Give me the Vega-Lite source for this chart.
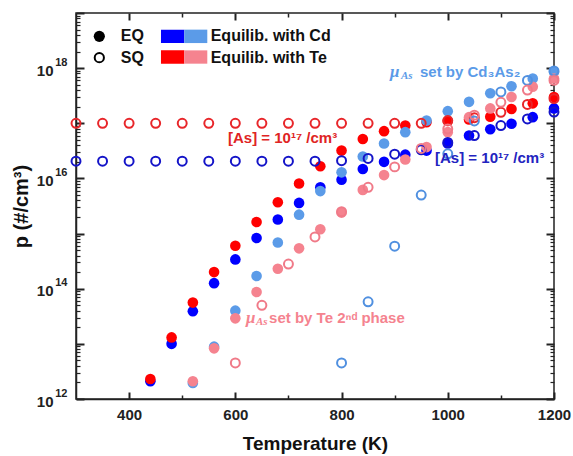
{
  "$schema": "https://vega.github.io/schema/vega-lite/v6.json",
  "width": 478,
  "height": 386,
  "autosize": {"type": "none"},
  "padding": {"left": 76, "top": 13, "right": 19, "bottom": 57},
  "background": "white",
  "config": {
    "view": {"stroke": "#222222", "strokeWidth": 1.5},
    "font": "Liberation Sans"
  },
  "datasets": {
    "eq": [
      {"T":440,"p":2.1e12,"s":"Cd"},{"T":480,"p":1.0e13,"s":"Cd"},{"T":520,"p":3.9e13,"s":"Cd"},{"T":560,"p":1.26e14,"s":"Cd"},{"T":600,"p":3.4e14,"s":"Cd"},{"T":640,"p":8.3e14,"s":"Cd"},{"T":680,"p":1.8e15,"s":"Cd"},{"T":720,"p":3.6e15,"s":"Cd"},{"T":760,"p":6.9e15,"s":"Cd"},{"T":800,"p":9.5e15,"s":"Cd"},{"T":840,"p":1.48e16,"s":"Cd"},{"T":880,"p":2.0e16,"s":"Cd"},{"T":920,"p":2.7e16,"s":"Cd"},{"T":960,"p":3.2e16,"s":"Cd"},{"T":1000,"p":4.3e16,"s":"Cd"},{"T":1040,"p":6.0e16,"s":"Cd"},{"T":1080,"p":7.8e16,"s":"Cd"},{"T":1120,"p":9.8e16,"s":"Cd"},{"T":1160,"p":1.29e17,"s":"Cd"},{"T":1200,"p":1.86e17,"s":"Cd"},
      {"T":440,"p":2.3e12,"s":"Te"},{"T":480,"p":1.31e13,"s":"Te"},{"T":520,"p":5.6e13,"s":"Te"},{"T":560,"p":2.0e14,"s":"Te"},{"T":600,"p":6.0e14,"s":"Te"},{"T":640,"p":1.62e15,"s":"Te"},{"T":680,"p":3.7e15,"s":"Te"},{"T":720,"p":8.1e15,"s":"Te"},{"T":760,"p":1.66e16,"s":"Te"},{"T":800,"p":3.2e16,"s":"Te"},{"T":840,"p":5.2e16,"s":"Te"},{"T":880,"p":7.2e16,"s":"Te"},{"T":920,"p":9.1e16,"s":"Te"},{"T":960,"p":1.05e17,"s":"Te"},{"T":1000,"p":1.1e17,"s":"Te"},{"T":1040,"p":1.17e17,"s":"Te"},{"T":1080,"p":1.32e17,"s":"Te"},{"T":1120,"p":1.82e17,"s":"Te"},{"T":1160,"p":2.3e17,"s":"Te"},{"T":1200,"p":3.0e17,"s":"Te"},
      {"T":520,"p":1.95e12,"s":"CdAs"},{"T":560,"p":8.9e12,"s":"CdAs"},{"T":600,"p":4.0e13,"s":"CdAs"},{"T":640,"p":1.7e14,"s":"CdAs"},{"T":680,"p":6.9e14,"s":"CdAs"},{"T":720,"p":2.2e15,"s":"CdAs"},{"T":760,"p":5.9e15,"s":"CdAs"},{"T":800,"p":1.29e16,"s":"CdAs"},{"T":840,"p":2.5e16,"s":"CdAs"},{"T":880,"p":4.3e16,"s":"CdAs"},{"T":920,"p":6.9e16,"s":"CdAs"},{"T":960,"p":1.12e17,"s":"CdAs"},{"T":1000,"p":1.66e17,"s":"CdAs"},{"T":1040,"p":2.45e17,"s":"CdAs"},{"T":1080,"p":3.5e17,"s":"CdAs"},{"T":1120,"p":4.7e17,"s":"CdAs"},{"T":1160,"p":6.5e17,"s":"CdAs"},{"T":1200,"p":8.5e17,"s":"CdAs"},
      {"T":520,"p":2.1e12,"s":"TeP"},{"T":560,"p":8.3e12,"s":"TeP"},{"T":600,"p":2.9e13,"s":"TeP"},{"T":640,"p":8.7e13,"s":"TeP"},{"T":680,"p":2.3e14,"s":"TeP"},{"T":720,"p":5.4e14,"s":"TeP"},{"T":760,"p":1.2e15,"s":"TeP"},{"T":800,"p":2.4e15,"s":"TeP"},{"T":840,"p":6.2e15,"s":"TeP"},{"T":880,"p":1.15e16,"s":"TeP"},{"T":920,"p":2.2e16,"s":"TeP"},{"T":960,"p":3.7e16,"s":"TeP"},{"T":1000,"p":6.9e16,"s":"TeP"},{"T":1040,"p":1.29e17,"s":"TeP"},{"T":1080,"p":1.86e17,"s":"TeP"},{"T":1120,"p":3.0e17,"s":"TeP"},{"T":1160,"p":4.6e17,"s":"TeP"},{"T":1200,"p":6.5e17,"s":"TeP"}
    ],
    "sq": [
      {"T":300,"p":2.05e16,"s":"Cd"},{"T":350,"p":2.05e16,"s":"Cd"},{"T":400,"p":2.05e16,"s":"Cd"},{"T":450,"p":2.05e16,"s":"Cd"},{"T":500,"p":2.05e16,"s":"Cd"},{"T":550,"p":2.05e16,"s":"Cd"},{"T":600,"p":2.05e16,"s":"Cd"},{"T":650,"p":2.05e16,"s":"Cd"},{"T":700,"p":2.05e16,"s":"Cd"},{"T":750,"p":2.05e16,"s":"Cd"},{"T":800,"p":2.1e16,"s":"Cd"},{"T":850,"p":2.3e16,"s":"Cd"},{"T":900,"p":2.75e16,"s":"Cd"},{"T":950,"p":3.3e16,"s":"Cd"},{"T":1000,"p":4.5e16,"s":"Cd"},{"T":1050,"p":6.0e16,"s":"Cd"},{"T":1100,"p":9.1e16,"s":"Cd"},{"T":1150,"p":1.2e17,"s":"Cd"},{"T":1200,"p":1.6e17,"s":"Cd"},
      {"T":300,"p":1.0e17,"s":"Te"},{"T":350,"p":1.0e17,"s":"Te"},{"T":400,"p":1.0e17,"s":"Te"},{"T":450,"p":1.0e17,"s":"Te"},{"T":500,"p":1.0e17,"s":"Te"},{"T":550,"p":1.0e17,"s":"Te"},{"T":600,"p":1.0e17,"s":"Te"},{"T":650,"p":1.0e17,"s":"Te"},{"T":700,"p":1.0e17,"s":"Te"},{"T":750,"p":1.0e17,"s":"Te"},{"T":800,"p":1.0e17,"s":"Te"},{"T":850,"p":1.0e17,"s":"Te"},{"T":900,"p":1.0e17,"s":"Te"},{"T":950,"p":1.0e17,"s":"Te"},{"T":1000,"p":1.12e17,"s":"Te"},{"T":1050,"p":1.26e17,"s":"Te"},{"T":1100,"p":1.58e17,"s":"Te"},{"T":1150,"p":2.2e17,"s":"Te"},{"T":1200,"p":2.8e17,"s":"Te"},
      {"T":800,"p":4.5e12,"s":"CdAs"},{"T":850,"p":5.8e13,"s":"CdAs"},{"T":900,"p":5.9e14,"s":"CdAs"},{"T":950,"p":5.0e15,"s":"CdAs"},{"T":1000,"p":2.8e16,"s":"CdAs"},{"T":1050,"p":1.1e17,"s":"CdAs"},{"T":1100,"p":3.7e17,"s":"CdAs"},{"T":1150,"p":6.0e17,"s":"CdAs"},{"T":1200,"p":8.9e17,"s":"CdAs"},
      {"T":600,"p":4.5e12,"s":"TeP"},{"T":650,"p":5.0e13,"s":"TeP"},{"T":700,"p":2.8e14,"s":"TeP"},{"T":750,"p":8.7e14,"s":"TeP"},{"T":800,"p":2.5e15,"s":"TeP"},{"T":850,"p":6.9e15,"s":"TeP"},{"T":900,"p":1.62e16,"s":"TeP"},{"T":950,"p":3.5e16,"s":"TeP"},{"T":1000,"p":7.9e16,"s":"TeP"},{"T":1050,"p":1.4e17,"s":"TeP"},{"T":1100,"p":2.4e17,"s":"TeP"},{"T":1150,"p":4.0e17,"s":"TeP"},{"T":1200,"p":6.0e17,"s":"TeP"}
    ],
    "swatch": [
      {"T":460,"T2":503.9,"p":4.99e18,"p2":2.85e18,"s":"Cd"},
      {"T":503.9,"T2":547.2,"p":4.99e18,"p2":2.85e18,"s":"CdAs"},
      {"T":460,"T2":503.9,"p":2.1e18,"p2":1.205e18,"s":"Te"},
      {"T":503.9,"T2":547.2,"p":2.1e18,"p2":1.205e18,"s":"TeP"}
    ]
  },
  "resolve": {"axis": {"x": "independent", "y": "independent"}},
  "layer": [
    {
      "data": {"name": "eq"},
      "mark": {"type": "point", "filled": true, "size": 113, "opacity": 1, "strokeWidth": 0},
      "encoding": {
        "x": {"field": "T", "type": "quantitative",
          "scale": {"domain": [300, 1200], "nice": false, "zero": false},
          "axis": {"orient": "bottom", "values": [400, 600, 800, 1000, 1200], "format": "d", "grid": false,
            "ticks": false, "tickSize": 0, "domainColor": "#222222", "domainWidth": 1.5,
            "labelPadding": 8, "labelFlush": false, "labelFontSize": 15, "labelFontWeight": "bold", "labelColor": "#222222",
            "title": "Temperature (K)", "titleFontSize": 19, "titleFontWeight": "bold", "titleColor": "#111111", "titlePadding": 12}},
        "y": {"field": "p", "type": "quantitative",
          "scale": {"type": "log", "domain": [1e12, 1e19], "nice": false},
          "axis": {"orient": "left", "values": [1e12, 1e14, 1e16, 1e18], "grid": false,
            "ticks": false, "tickSize": 0, "domainColor": "#222222", "domainWidth": 1.5,
            "labelPadding": 23, "labelOffset": 2, "labelFlush": false, "labelOverlap": false, "labelFontSize": 15, "labelFontWeight": "bold", "labelColor": "#222222",
            "labelExpr": "'10'",
            "title": "p (#/cm³)", "titleFontSize": 20, "titleFontWeight": "bold", "titleColor": "#111111", "titlePadding": 5}},
        "fill": {"field": "s", "type": "nominal", "legend": null,
          "scale": {"domain": ["Cd", "Te", "CdAs", "TeP"], "range": ["#0000ff", "#ff0000", "#5b9be8", "#f5838f"]}}
      }
    },
    {
      "data": {"name": "sq"},
      "mark": {"type": "point", "filled": false, "size": 80, "opacity": 1, "strokeWidth": 2},
      "encoding": {
        "x": {"field": "T", "type": "quantitative", "scale": {"domain": [300, 1200], "nice": false, "zero": false},
          "axis": {"orient": "top", "offset": -386, "values": [400, 600, 800, 1000, 1200], "grid": false, "domain": false, "labels": false, "title": null,
            "ticks": true, "tickSize": 7, "tickWidth": 2, "tickColor": "#222222"}},
        "y": {"field": "p", "type": "quantitative", "scale": {"type": "log", "domain": [1e12, 1e19], "nice": false},
          "axis": {"orient": "right", "offset": -478, "values": [1e12, 1e13, 1e14, 1e15, 1e16, 1e17, 1e18, 1e19], "grid": false, "domain": false, "labels": false, "title": null,
            "ticks": true, "tickSize": 8, "tickWidth": 2, "tickColor": "#222222"}},
        "stroke": {"field": "s", "type": "nominal", "legend": null,
          "scale": {"domain": ["Cd", "Te", "CdAs", "TeP"], "range": ["#1414c8", "#e8262a", "#5090e0", "#f07a88"]}}
      }
    },
    {
      "data": {"name": "eq"},
      "mark": {"type": "point", "opacity": 0},
      "encoding": {
        "x": {"field": "T", "type": "quantitative", "scale": {"domain": [300, 1200], "nice": false, "zero": false},
          "axis": {"orient": "top", "offset": -386, "values": [500, 700, 900, 1100], "grid": false, "domain": false, "labels": false, "title": null,
            "ticks": true, "tickSize": 4, "tickWidth": 1.5, "tickColor": "#222222"}},
        "y": {"field": "p", "type": "quantitative", "scale": {"type": "log", "domain": [1e12, 1e19], "nice": false},
          "axis": {"orient": "right", "offset": -478, "grid": false, "domain": false, "labels": false, "title": null,
            "values": [2e12,3e12,4e12,5e12,6e12,7e12,8e12,9e12,2e13,3e13,4e13,5e13,6e13,7e13,8e13,9e13,2e14,3e14,4e14,5e14,6e14,7e14,8e14,9e14,2e15,3e15,4e15,5e15,6e15,7e15,8e15,9e15,2e16,3e16,4e16,5e16,6e16,7e16,8e16,9e16,2e17,3e17,4e17,5e17,6e17,7e17,8e17,9e17,2e18,3e18,4e18,5e18,6e18,7e18,8e18,9e18],
            "ticks": true, "tickSize": 4, "tickWidth": 1.2, "tickColor": "#222222"}}
      }
    },
    {
      "data": {"name": "eq"},
      "mark": {"type": "point", "opacity": 0},
      "encoding": {
        "x": {"field": "T", "type": "quantitative", "scale": {"domain": [300, 1200], "nice": false, "zero": false},
          "axis": {"orient": "bottom", "offset": -386, "values": [400, 600, 800, 1000, 1200], "grid": false, "domain": false, "labels": false, "title": null,
            "ticks": true, "tickSize": 7, "tickWidth": 2, "tickColor": "#222222"}},
        "y": {"field": "p", "type": "quantitative", "scale": {"type": "log", "domain": [1e12, 1e19], "nice": false},
          "axis": {"orient": "left", "offset": -478, "values": [1e12, 1e13, 1e14, 1e15, 1e16, 1e17, 1e18, 1e19], "grid": false, "domain": false, "labels": false, "title": null,
            "ticks": true, "tickSize": 8, "tickWidth": 2, "tickColor": "#222222"}}
      }
    },
    {
      "data": {"name": "eq"},
      "mark": {"type": "point", "opacity": 0},
      "encoding": {
        "x": {"field": "T", "type": "quantitative", "scale": {"domain": [300, 1200], "nice": false, "zero": false},
          "axis": {"orient": "bottom", "offset": -386, "values": [500, 700, 900, 1100], "grid": false, "domain": false, "labels": false, "title": null,
            "ticks": true, "tickSize": 4, "tickWidth": 1.5, "tickColor": "#222222"}},
        "y": {"field": "p", "type": "quantitative", "scale": {"type": "log", "domain": [1e12, 1e19], "nice": false},
          "axis": {"orient": "left", "offset": -478, "grid": false, "domain": false, "labels": false, "title": null,
            "values": [2e12,3e12,4e12,5e12,6e12,7e12,8e12,9e12,2e13,3e13,4e13,5e13,6e13,7e13,8e13,9e13,2e14,3e14,4e14,5e14,6e14,7e14,8e14,9e14,2e15,3e15,4e15,5e15,6e15,7e15,8e15,9e15,2e16,3e16,4e16,5e16,6e16,7e16,8e16,9e16,2e17,3e17,4e17,5e17,6e17,7e17,8e17,9e17,2e18,3e18,4e18,5e18,6e18,7e18,8e18,9e18],
            "ticks": true, "tickSize": 4, "tickWidth": 1.2, "tickColor": "#222222"}}
      }
    },
    {
      "data": {"name": "eq"},
      "mark": {"type": "point", "opacity": 0},
      "encoding": {
        "x": {"field": "T", "type": "quantitative", "scale": {"domain": [300, 1200], "nice": false, "zero": false}, "axis": null},
        "y": {"field": "p", "type": "quantitative", "scale": {"type": "log", "domain": [1e12, 1e19], "nice": false},
          "axis": {"orient": "left", "values": [1e12, 1e14, 1e16, 1e18], "grid": false, "domain": false, "ticks": false, "tickSize": 0, "title": null,
            "labelPadding": 9, "labelOffset": -6, "labelFlush": false, "labelOverlap": false, "labelFontSize": 11, "labelFontWeight": "bold", "labelColor": "#222222",
            "labelExpr": "datum.value < 3e12 ? '12' : datum.value < 3e14 ? '14' : datum.value < 3e16 ? '16' : '18'"}}
      }
    },
    {
      "data": {"name": "swatch"},
      "mark": {"type": "rect"},
      "encoding": {
        "x": {"field": "T", "type": "quantitative", "axis": null},
        "x2": {"field": "T2"},
        "y": {"field": "p", "type": "quantitative", "axis": null},
        "y2": {"field": "p2"},
        "fill": {"field": "s", "type": "nominal", "legend": null}
      }
    },
    {
      "data": {"values": [{"T": 343.9, "p": 3.77e18}]},
      "mark": {"type": "point", "filled": true, "size": 125, "color": "#000000", "opacity": 1},
      "encoding": {"x": {"field": "T", "type": "quantitative", "axis": null}, "y": {"field": "p", "type": "quantitative", "axis": null}}
    },
    {
      "data": {"values": [{"T": 343.9, "p": 1.55e18}]},
      "mark": {"type": "point", "filled": false, "size": 85, "strokeWidth": 2, "color": "#000000", "opacity": 1},
      "encoding": {"x": {"field": "T", "type": "quantitative", "axis": null}, "y": {"field": "p", "type": "quantitative", "axis": null}}
    },
    {
      "data": {"values": [
        {"T": 384.2, "p": 3.77e18, "t": "EQ"},
        {"T": 384.2, "p": 1.55e18, "t": "SQ"},
        {"T": 553.6, "p": 3.77e18, "t": "Equilib. with Cd"},
        {"T": 553.6, "p": 1.55e18, "t": "Equilib. with Te"}
      ]},
      "mark": {"type": "text", "align": "left", "baseline": "middle", "fontSize": 16, "fontWeight": "bold", "color": "#111111"},
      "encoding": {"x": {"field": "T", "type": "quantitative", "axis": null}, "y": {"field": "p", "type": "quantitative", "axis": null}, "text": {"field": "t"}}
    },
    {
      "data": {"values": [{"T": 586.2, "p": 5.35e16, "t": "[As] = 10¹⁷ /cm³"}]},
      "mark": {"type": "text", "align": "left", "baseline": "middle", "fontSize": 15, "fontWeight": "bold", "color": "#e02424"},
      "encoding": {"x": {"field": "T", "type": "quantitative", "axis": null}, "y": {"field": "p", "type": "quantitative", "axis": null}, "text": {"field": "t"}}
    },
    {
      "data": {"values": [{"T": 976, "p": 2.32e16, "t": "[As] = 10¹⁷ /cm³"}]},
      "mark": {"type": "text", "align": "left", "baseline": "middle", "fontSize": 15, "fontWeight": "bold", "color": "#2323c0"},
      "encoding": {"x": {"field": "T", "type": "quantitative", "axis": null}, "y": {"field": "p", "type": "quantitative", "axis": null}, "text": {"field": "t"}}
    },
    {
      "data": {"values": [{"T": 947.7, "p": 8.4e17, "t": "set by Cd₃As₂"}]},
      "mark": {"type": "text", "align": "left", "baseline": "middle", "fontSize": 15, "fontWeight": "bold", "color": "#5b9be8"},
      "encoding": {"x": {"field": "T", "type": "quantitative", "axis": null}, "y": {"field": "p", "type": "quantitative", "axis": null}, "text": {"field": "t"}}
    },
    {
      "data": {"values": [{"T": 891.2, "p": 8.4e17, "t": "μ"}]},
      "mark": {"type": "text", "align": "left", "baseline": "middle", "fontSize": 17, "fontStyle": "italic", "font": "Liberation Serif", "fontWeight": "bold", "color": "#5b9be8"},
      "encoding": {"x": {"field": "T", "type": "quantitative", "axis": null}, "y": {"field": "p", "type": "quantitative", "axis": null}, "text": {"field": "t"}}
    },
    {
      "data": {"values": [{"T": 911.9, "p": 7.1e17, "t": "As"}]},
      "mark": {"type": "text", "align": "left", "baseline": "middle", "fontSize": 11, "fontStyle": "italic", "font": "Liberation Serif", "fontWeight": "bold", "color": "#5b9be8"},
      "encoding": {"x": {"field": "T", "type": "quantitative", "axis": null}, "y": {"field": "p", "type": "quantitative", "axis": null}, "text": {"field": "t"}}
    },
    {
      "data": {"values": [{"T": 663.5, "p": 2.93e13, "t": "set by Te 2ⁿᵈ phase"}]},
      "mark": {"type": "text", "align": "left", "baseline": "middle", "fontSize": 15, "fontWeight": "bold", "color": "#f5838f"},
      "encoding": {"x": {"field": "T", "type": "quantitative", "axis": null}, "y": {"field": "p", "type": "quantitative", "axis": null}, "text": {"field": "t"}}
    },
    {
      "data": {"values": [{"T": 620.1, "p": 2.93e13, "t": "μ"}]},
      "mark": {"type": "text", "align": "left", "baseline": "middle", "fontSize": 17, "fontStyle": "italic", "font": "Liberation Serif", "fontWeight": "bold", "color": "#f5838f"},
      "encoding": {"x": {"field": "T", "type": "quantitative", "axis": null}, "y": {"field": "p", "type": "quantitative", "axis": null}, "text": {"field": "t"}}
    },
    {
      "data": {"values": [{"T": 638.9, "p": 2.48e13, "t": "As"}]},
      "mark": {"type": "text", "align": "left", "baseline": "middle", "fontSize": 11, "fontStyle": "italic", "font": "Liberation Serif", "fontWeight": "bold", "color": "#f5838f"},
      "encoding": {"x": {"field": "T", "type": "quantitative", "axis": null}, "y": {"field": "p", "type": "quantitative", "axis": null}, "text": {"field": "t"}}
    }
  ]
}
